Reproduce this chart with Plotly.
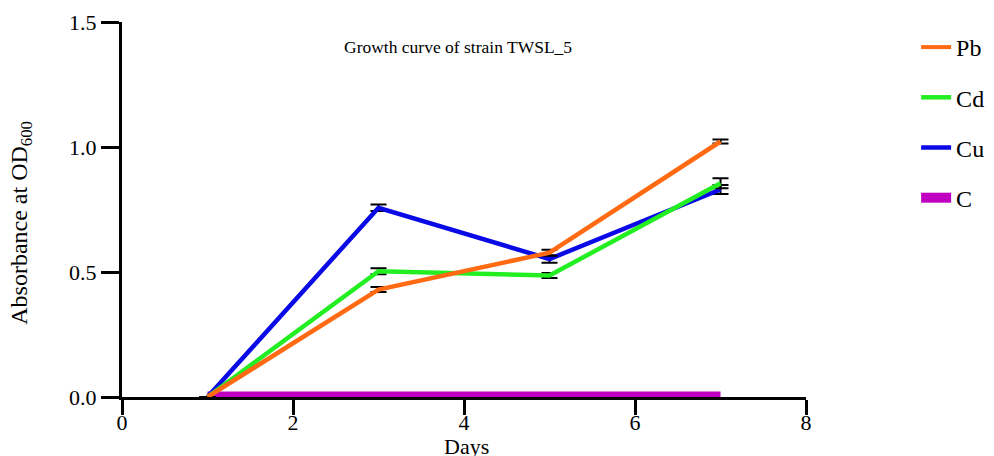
import plotly.graph_objects as go

days = [1, 3, 5, 7]
series_names = ["Pb", "Cd", "Cu", "C"]
pb = [0.0, 0.43, 0.577, 1.022]
cd = [0.0, 0.503, 0.486, 0.855]
cu = [0.0, 0.757, 0.552, 0.83]
ctrl = [0.01, 0.01, 0.01, 0.01]
pb_err = [0.0, 0.01, 0.012, 0.008]
cd_err = [0.0, 0.012, 0.01, 0.02]
cu_err = [0.0, 0.013, 0.015, 0.018]
ctrl_err = [0.0, 0.0, 0.0, 0.0]

colors = {"Pb": "#FF6A13", "Cd": "#22EE22", "Cu": "#0A0AE6", "C": "#C000C0"}
widths = {"Pb": 4.5, "Cd": 4.5, "Cu": 4.5, "C": 6}
legend_widths = {"Pb": 4, "Cd": 4.5, "Cu": 4.5, "C": 14}
values = {"Pb": pb, "Cd": cd, "Cu": cu, "C": ctrl}
errors = {"Pb": pb_err, "Cd": cd_err, "Cu": cu_err, "C": ctrl_err}

fig = go.Figure()
# draw bottom-to-top: C, Cu, Cd, Pb
for name in reversed(series_names):
    fig.add_trace(go.Scatter(
        x=days, y=values[name], name=name, mode="lines",
        line=dict(color=colors[name], width=widths[name]),
        error_y=dict(type="data", array=errors[name], visible=name != "C",
                     color="black", thickness=2, width=8),
        showlegend=False,
    ))
# legend entries (swatches only)
for rank, name in enumerate(series_names):
    fig.add_trace(go.Scatter(
        x=[None], y=[None], name=name, mode="lines",
        line=dict(color=colors[name], width=legend_widths[name]),
        legendgroup=name, legendrank=rank + 1, showlegend=True,
    ))

font_family = "Liberation Serif, Times New Roman, serif"
fig.update_layout(
    width=994, height=456,
    margin=dict(l=114, r=196, t=14, b=67, autoexpand=False),
    paper_bgcolor="white", plot_bgcolor="white",
    font=dict(family=font_family, size=22, color="black"),
    showlegend=True,
    legend=dict(x=1.161, y=0.992, xanchor="left", yanchor="top",
                traceorder="grouped",
                font=dict(size=24), tracegroupgap=16,
                bgcolor="rgba(0,0,0,0)"),
    annotations=[
        dict(text="Growth curve of strain TWSL_5", x=0.491, y=0.933,
             xref="paper", yref="paper", xanchor="center", yanchor="middle",
             showarrow=False, font=dict(size=17.5, family=font_family)),
        dict(text="Days", x=0.504, y=-0.133, xref="paper", yref="paper",
             xanchor="center", yanchor="middle",
             showarrow=False, font=dict(size=22, family=font_family)),
        dict(text="Absorbance at OD<sub>600</sub>", x=-0.148, y=0.464,
             xref="paper", yref="paper", textangle=-90, showarrow=False,
             xanchor="center", yanchor="middle",
             font=dict(size=24, family=font_family)),
    ],
)
fig.update_xaxes(range=[0, 8], tickvals=[0, 2, 4, 6, 8], showline=True,
                 linecolor="black", linewidth=3, ticks="outside", ticklen=15,
                 tickwidth=3, tickcolor="black", showgrid=False, zeroline=False,
                 automargin=False, tickfont=dict(size=22),
                 ticklabelstandoff=-11)
fig.update_yaxes(range=[0, 1.5], tickvals=[0, 0.5, 1.0, 1.5], tickformat=".1f",
                 showline=True, linecolor="black", linewidth=3, ticks="outside",
                 ticklen=18, tickwidth=3, tickcolor="black", showgrid=False,
                 zeroline=False, automargin=False, tickfont=dict(size=22))

fig.write_html("out.html")
